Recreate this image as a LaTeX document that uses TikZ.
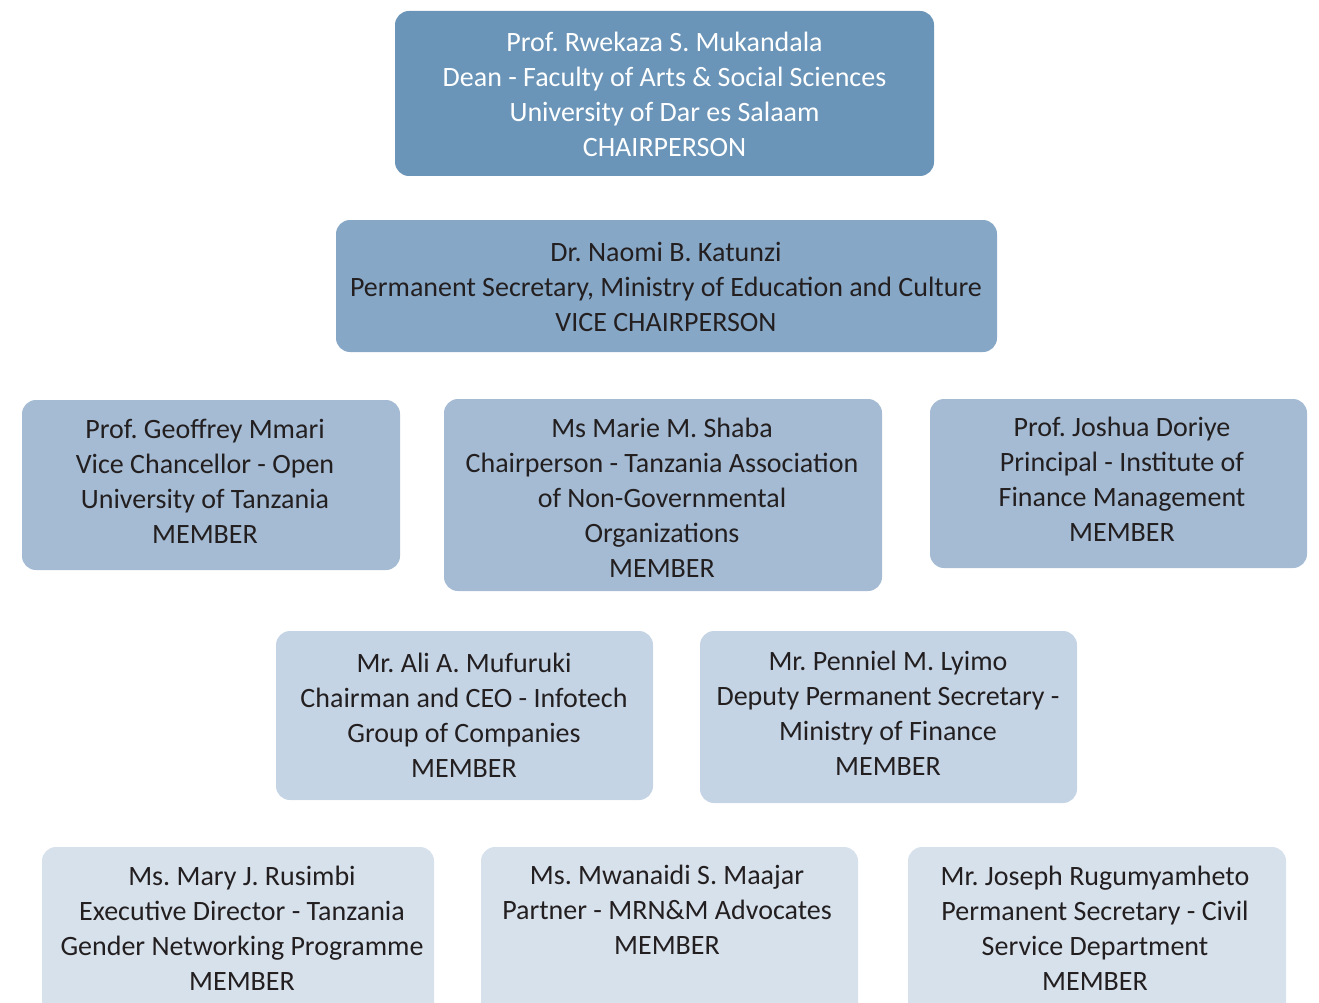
\documentclass[tikz,border=0pt]{standalone}
\usepackage{fontspec}
\setmainfont{Carlito}
\frenchspacing
\definecolor{c1}{HTML}{6A95B8}
\definecolor{c2}{HTML}{87A7C6}
\definecolor{c3}{HTML}{A4BBD3}
\definecolor{c4}{HTML}{C4D4E5}
\definecolor{c5}{HTML}{D7E1EC}
\definecolor{ink}{HTML}{231F20}
\tikzset{
  box/.style={rounded corners=14pt, draw=none, inner sep=0pt},
  txt/.style={align=center, text=ink, font=\fontsize{28}{35}\selectfont\frenchspacing, inner sep=0pt},
}
\begin{document}
\begin{tikzpicture}[x=1pt,y=-1pt]
\useasboundingbox (0,0) rectangle (1319,1003);
\clip (0,0) rectangle (1319,1003);
\path[box, fill=c1] (395,11) rectangle (934,176);
\node[txt, text=white] (chair) at (664.5,94) {Prof. Rwekaza S. Mukandala\\Dean - Faculty of Arts \& Social Sciences\\University of Dar es Salaam\\CHAIRPERSON};
\path[box, fill=c2] (336,220) rectangle (997,352);
\node[txt] (vice) at (666,286.5) {Dr. Naomi B. Katunzi\\Permanent Secretary, Ministry of Education and Culture\\VICE CHAIRPERSON};
\path[box, fill=c3] (22,400) rectangle (400,570);
\node[txt] (mmari) at (205,481) {Prof. Geoffrey Mmari\\Vice Chancellor - Open\\University of Tanzania\\MEMBER};
\path[box, fill=c3] (444,399) rectangle (882,591);
\node[txt] (shaba) at (662,497.5) {Ms Marie M. Shaba\\Chairperson - Tanzania Association\\of Non-Governmental\\Organizations\\MEMBER};
\path[box, fill=c3] (930,399) rectangle (1307,568);
\node[txt] (doriye) at (1122,479) {Prof. Joshua Doriye\\Principal - Institute of\\Finance Management\\MEMBER};
\path[box, fill=c4] (276,631) rectangle (653,800);
\node[txt] (mufuruki) at (464,715.5) {Mr. Ali A. Mufuruki\\Chairman and CEO - Infotech\\Group of Companies\\MEMBER};
\path[box, fill=c4] (700,631) rectangle (1077,803);
\node[txt] (lyimo) at (888,713.5) {Mr. Penniel M. Lyimo\\Deputy Permanent Secretary -\\Ministry of Finance\\MEMBER};
\path[box, fill=c5] (42,847) rectangle (434,1030);
\node[txt] (rusimbi) at (242,928) {Ms. Mary J. Rusimbi\\Executive Director - Tanzania\\Gender Networking Programme\\MEMBER};
\path[box, fill=c5] (481,847) rectangle (858,1030);
\node[txt] (maajar) at (667,910) {Ms. Mwanaidi S. Maajar\\Partner - MRN\&M Advocates\\MEMBER};
\path[box, fill=c5] (908,847) rectangle (1286,1030);
\node[txt] (rugu) at (1095,928) {Mr. Joseph Rugumyamheto\\Permanent Secretary - Civil\\Service Department\\MEMBER};
\end{tikzpicture}
\end{document}
